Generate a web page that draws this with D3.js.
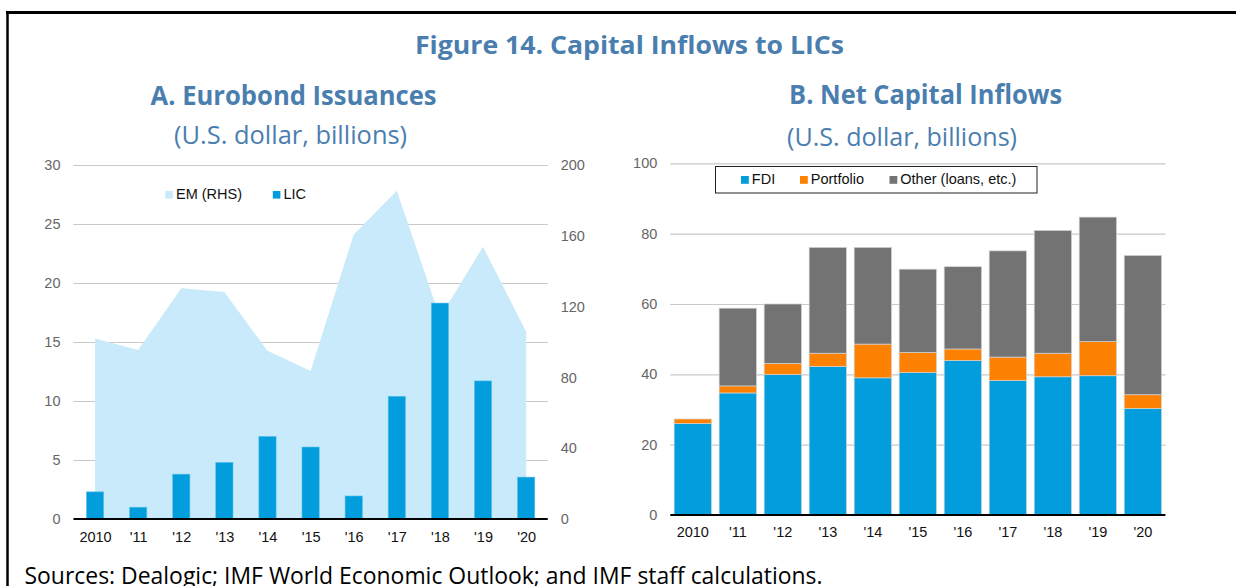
<!DOCTYPE html>
<html>
<head>
<meta charset="utf-8">
<script src="https://cdn.jsdelivr.net/npm/d3@7"></script>
<style>
  html, body { margin: 0; padding: 0; background: #ffffff; }
  svg { display: block; }
</style>
</head>
<body>
<div id="chart"></div>
<script>
// Figure 14 - Capital inflows to LICs (two panels)

const years = ["2010", "'11", "'12", "'13", "'14", "'15", "'16", "'17", "'18", "'19", "'20"];

// Panel A (LIC on left axis, EM on right axis)
const licIssuance = [2.3, 1.0, 3.8, 4.8, 7.0, 6.1, 1.95, 10.4, 18.3, 11.7, 3.55];
const emIssuance = [102, 95.5, 130.3, 128.2, 95, 83.6, 160.8, 185.5, 114, 153.8, 105.8];
const leftTicks = [0, 5, 10, 15, 20, 25, 30];
const rightTicks = [0, 40, 80, 120, 160, 200];

// Panel B (stacked)
const fdi = [26.0, 34.7, 39.9, 42.2, 39.0, 40.5, 43.9, 38.2, 39.3, 39.6, 30.3];
const portfolio = [1.3, 2.0, 3.2, 3.8, 9.6, 5.7, 3.3, 6.7, 6.7, 9.7, 3.9];
const otherFlows = [0, 22.1, 16.9, 30.1, 27.5, 23.7, 23.4, 30.2, 34.9, 35.4, 39.6];
const flowTicks = [0, 20, 40, 60, 80, 100];
const flowNames = ["FDI", "Portfolio", "Other (loans, etc.)"];

const width = 1236;
const height = 586;
const titleBlue = "#4a7eaf";
const fontTitle = '"Open Sans", "Noto Sans", sans-serif';
const fontTick = '"Liberation Sans", Arial, sans-serif';
const gridColor = "#c9c9c9";
const tickGray = "#666666";

const svg = d3.select("#chart")
  .append("svg")
  .attr("width", width)
  .attr("height", height)
  .attr("viewBox", [0, 0, width, height]);

svg.append("rect").attr("width", width).attr("height", height).attr("fill", "#ffffff");

// frame (top and left only)
svg.append("line").attr("x1", 6).attr("x2", width).attr("y1", 12.5).attr("y2", 12.5)
  .attr("stroke", "#000").attr("stroke-width", 3);
svg.append("line").attr("x1", 7.5).attr("x2", 7.5).attr("y1", 11).attr("y2", height)
  .attr("stroke", "#000").attr("stroke-width", 2.5);

function fitText(sel, w) {
  sel.attr("textLength", w).attr("lengthAdjust", "spacingAndGlyphs");
}

svg.append("text")
  .attr("x", 629.5).attr("y", 53.5)
  .attr("text-anchor", "middle")
  .attr("fill", titleBlue)
  .attr("font-family", fontTitle)
  .attr("font-weight", 700)
  .attr("font-size", 24.5)
  .text("Figure 14. Capital Inflows to LICs")
  .call(fitText, 429);

function panelTitles(cx, title, titleW, y1, subCx, subW, y2) {
  svg.append("text")
    .attr("x", cx).attr("y", y1)
    .attr("text-anchor", "middle")
    .attr("fill", titleBlue)
    .attr("font-family", fontTitle)
    .attr("font-weight", 700)
    .attr("font-size", 26)
    .text(title)
    .call(fitText, titleW);
  svg.append("text")
    .attr("x", subCx).attr("y", y2)
    .attr("text-anchor", "middle")
    .attr("fill", titleBlue)
    .attr("font-family", fontTitle)
    .attr("font-weight", 400)
    .attr("font-size", 25)
    .text("(U.S. dollar, billions)")
    .call(fitText, subW);
}

panelTitles(293.6, "A. Eurobond Issuances", 286, 105, 290.6, 233, 144);
panelTitles(925.6, "B. Net Capital Inflows", 273, 104, 902, 230, 146);

// ---------- Panel A ----------
const ax0 = 73.5, ax1 = 547.7, ay0 = 519, ay1 = 165;

const xA = d3.scalePoint().domain(years).range([ax0, ax1]).padding(0.5);
const stepA = xA.step();
const yL = d3.scaleLinear().domain([0, 30]).range([ay0, ay1]);
const yR = d3.scaleLinear().domain([0, 200]).range([ay0, ay1]);

const panelA = svg.append("g");

panelA.append("g")
  .attr("transform", "translate(" + ax0 + ",0)")
  .call(d3.axisLeft(yL).tickValues(leftTicks).tickSize(-(ax1 - ax0)).tickFormat(""))
  .call(function(g) {
    g.select(".domain").remove();
    g.selectAll("line").attr("stroke", gridColor).attr("stroke-width", 1.2);
  });

const emRows = years.map(function(y, i) { return { year: y, value: emIssuance[i] }; });

panelA.append("path")
  .datum(emRows)
  .attr("fill", "#c8eafa")
  .attr("d", d3.area()
    .x(function(d) { return xA(d.year); })
    .y0(yR(0))
    .y1(function(d) { return yR(d.value); }));

panelA.append("g")
  .selectAll("rect")
  .data(licIssuance)
  .join("rect")
  .attr("x", function(d, i) { return xA(years[i]) - stepA * 0.2; })
  .attr("width", stepA * 0.4)
  .attr("y", function(d) { return yL(d); })
  .attr("height", function(d) { return yL(0) - yL(d); })
  .attr("fill", "#029ddc")
  .attr("stroke", "#5cc0ea")
  .attr("stroke-width", 0.6);

panelA.append("line")
  .attr("x1", ax0).attr("x2", ax1)
  .attr("y1", yL(0)).attr("y2", yL(0))
  .attr("stroke", "#000").attr("stroke-width", 1.8);

function styleTicks(g, color) {
  g.select(".domain").remove();
  g.selectAll("text")
    .attr("fill", color)
    .attr("font-family", fontTick)
    .attr("font-size", 14.5);
}

panelA.append("g")
  .attr("transform", "translate(" + ax0 + ",0)")
  .call(d3.axisLeft(yL).tickValues(leftTicks).tickSize(0).tickPadding(13))
  .call(styleTicks, tickGray);

panelA.append("g")
  .attr("transform", "translate(" + ax1 + ",0)")
  .call(d3.axisRight(yR).tickValues(rightTicks).tickSize(0).tickPadding(13))
  .call(styleTicks, tickGray);

panelA.append("g")
  .attr("transform", "translate(0," + ay0 + ")")
  .call(d3.axisBottom(xA).tickSize(0).tickPadding(12.4))
  .call(styleTicks, "#111111");

// legend A
const legendA = panelA.append("g").attr("font-family", fontTick).attr("font-size", 14.5);
[["EM (RHS)", "#c8eafa", 165.3], ["LIC", "#029ddc", 272.8]].forEach(function(item) {
  legendA.append("rect")
    .attr("x", item[2]).attr("y", 191)
    .attr("width", 7.6).attr("height", 7.6)
    .attr("fill", item[1]);
  legendA.append("text")
    .attr("x", item[2] + 10.7).attr("y", 199.2)
    .attr("fill", "#111111")
    .text(item[0]);
});

// ---------- Panel B ----------
const bx0 = 670.3, bx1 = 1165.4, by0 = 515, by1 = 163.3;

const xB = d3.scaleBand().domain(years).range([bx0, bx1]).paddingInner(0.17).paddingOuter(0.085);
const yB = d3.scaleLinear().domain([0, 100]).range([by0, by1]);
const flowColors = ["#029ddc", "#fd8204", "#737373"];

const panelB = svg.append("g");

panelB.append("g")
  .attr("transform", "translate(" + bx0 + ",0)")
  .call(d3.axisLeft(yB).tickValues(flowTicks).tickSize(-(bx1 - bx0)).tickFormat(""))
  .call(function(g) {
    g.select(".domain").remove();
    g.selectAll("line").attr("stroke", gridColor).attr("stroke-width", 1.2);
  });

const flowRows = years.map(function(y, i) {
  return { year: y, FDI: fdi[i], Portfolio: portfolio[i], "Other (loans, etc.)": otherFlows[i] };
});
const stacked = d3.stack().keys(flowNames)(flowRows);

panelB.append("g")
  .selectAll("g")
  .data(stacked)
  .join("g")
  .attr("fill", function(d, i) { return flowColors[i]; })
  .selectAll("rect")
  .data(function(d) { return d.filter(function(s) { return s[1] - s[0] > 0; }); })
  .join("rect")
  .attr("x", function(d) { return xB(d.data.year); })
  .attr("width", xB.bandwidth())
  .attr("y", function(d) { return yB(d[1]); })
  .attr("height", function(d) { return yB(d[0]) - yB(d[1]); })
  .attr("stroke", "#d4d4d4")
  .attr("stroke-width", 0.7);

panelB.append("line")
  .attr("x1", bx0).attr("x2", bx1)
  .attr("y1", yB(0)).attr("y2", yB(0))
  .attr("stroke", "#000").attr("stroke-width", 1.8);

panelB.append("g")
  .attr("transform", "translate(" + bx0 + ",0)")
  .call(d3.axisLeft(yB).tickValues(flowTicks).tickSize(0).tickPadding(13))
  .call(styleTicks, tickGray);

panelB.append("g")
  .attr("transform", "translate(0," + by0 + ")")
  .call(d3.axisBottom(xB).tickSize(0).tickPadding(12))
  .call(styleTicks, "#111111");

// legend B (boxed)
const legendB = panelB.append("g").attr("font-family", fontTick).attr("font-size", 14.5);
legendB.append("rect")
  .attr("x", 715.5).attr("y", 166.5)
  .attr("width", 321.5).attr("height", 26.5)
  .attr("fill", "#ffffff")
  .attr("stroke", "#222222")
  .attr("stroke-width", 1);
[741, 800, 889.5].forEach(function(lx, i) {
  legendB.append("rect")
    .attr("x", lx).attr("y", 176)
    .attr("width", 7.8).attr("height", 7.8)
    .attr("fill", flowColors[i]);
  legendB.append("text")
    .attr("x", lx + 10.8).attr("y", 184.3)
    .attr("fill", "#111111")
    .text(flowNames[i]);
});

// source note (cut by the bottom edge, as in the original)
svg.append("text")
  .attr("x", 24.5).attr("y", 584)
  .attr("fill", "#000000")
  .attr("font-family", fontTitle)
  .attr("font-size", 23.5)
  .text("Sources: Dealogic; IMF World Economic Outlook; and IMF staff calculations.")
  .call(fitText, 798);
</script>
</body>
</html>
